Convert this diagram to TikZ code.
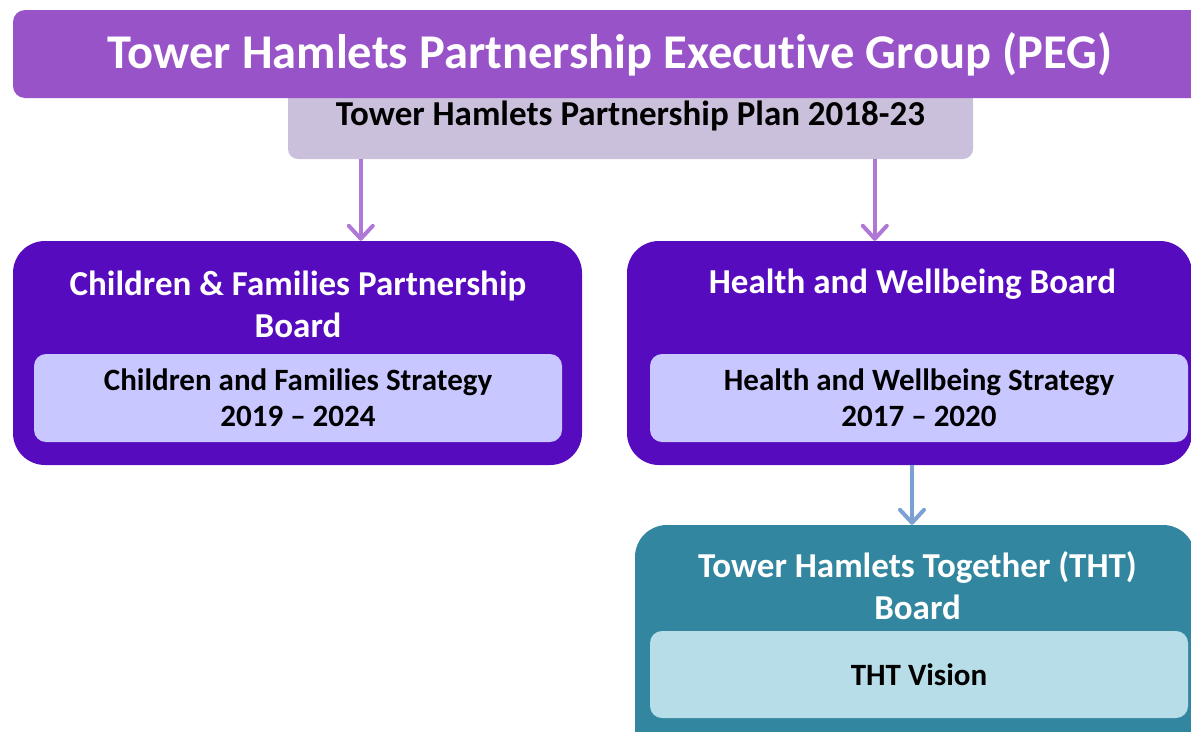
\documentclass[tikz,border=0pt]{standalone}
\usepackage{fontspec}
\setmainfont{Carlito}[Ligatures={NoCommon}]
\usepackage{xcolor}
\usepackage{tikz}
\usetikzlibrary{arrows.meta, positioning}
\definecolor{pegpurple}{RGB}{152,83,200}
\definecolor{planlilac}{RGB}{203,192,219}
\definecolor{linkpurple}{RGB}{176,120,214}
\definecolor{boardviolet}{RGB}{86,12,190}
\definecolor{stratlilac}{RGB}{200,199,255}
\definecolor{thtteal}{RGB}{51,134,159}
\definecolor{visionblue}{RGB}{183,222,232}
\definecolor{linkblue}{RGB}{123,160,212}
\tikzstyle{arrow} = [line width=4pt, -{Straight Barb[length=13pt,width=24pt,round]}]

\begin{document}
\begin{tikzpicture}[x=1pt, y=-1pt,
    board/.style={rectangle, rounded corners=32pt, fill=boardviolet, inner sep=0pt},
    strat/.style={rectangle, rounded corners=12pt, fill=stratlilac, inner sep=0pt, align=center, font=\bfseries\fontsize{31}{36}\selectfont},
    head/.style={align=center, inner sep=0pt, text=white, font=\bfseries\fontsize{35}{42}\selectfont}
]
\useasboundingbox (0,0) rectangle (1191,731);

% partnership plan sits behind the PEG banner
\node[rectangle, rounded corners=10pt, fill=planlilac, minimum width=685pt, minimum height=86pt, inner sep=0pt,
      font=\bfseries\fontsize{35}{40}\selectfont] (plan) at (630.5,116) {Tower Hamlets Partnership Plan 2018-23};
\node[rectangle, rounded corners=12pt, fill=pegpurple, minimum width=1194pt, minimum height=88pt, inner sep=0pt,
      text=white, font=\bfseries\fontsize{48.5}{56}\selectfont] (peg) at (610,54) {Tower Hamlets Partnership Executive Group (PEG)};

% children and families
\node[board, minimum width=569pt, minimum height=224pt] (cfpb) at (297.5,353) {};
\node[head] (cfpbtitle) at (298,304) {Children \& Families Partnership\\Board};
\node[strat, minimum width=528pt, minimum height=88pt] (cfs) at (298,398) {Children and Families Strategy\\2019 -- 2024};

% health and wellbeing
\node[board, minimum width=565pt, minimum height=224pt] (hwb) at (909.5,353) {};
\node[head] (hwbtitle) at (912.5,284) {Health and Wellbeing Board};
\node[strat, minimum width=538pt, minimum height=88pt] (hws) at (919,398) {Health and Wellbeing Strategy\\2017 -- 2020};

% tower hamlets together
\node[board, fill=thtteal, minimum width=560pt, minimum height=235pt] (tht) at (915,642.5) {};
\node[head] (thttitle) at (917.5,585.5) {Tower Hamlets Together (THT)\\Board};
\node[strat, fill=visionblue, minimum width=538pt, minimum height=87pt] (vision) at (919,674.5) {THT Vision};

\draw[arrow, linkpurple] ([xshift=73pt]plan.south west) -- ([xshift=73pt]plan.south west |- cfpb.north);
\draw[arrow, linkpurple] ([xshift=587pt]plan.south west) -- ([xshift=587pt]plan.south west |- hwb.north);
\draw[arrow, linkblue] ([xshift=2.5pt]hwb.south) -- ([xshift=2.5pt]hwb.south |- tht.north);
\end{tikzpicture}
\end{document}
